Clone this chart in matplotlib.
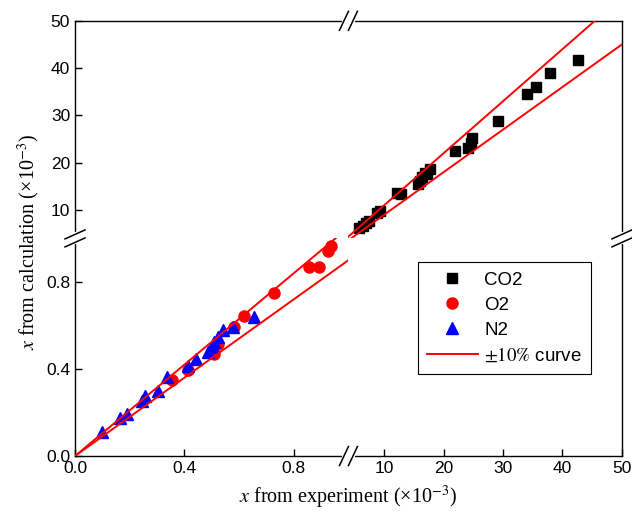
import matplotlib
matplotlib.use('Agg')
import matplotlib.pyplot as plt
from matplotlib.lines import Line2D

# data (units of 1e-3)
co2_x = [42.6, 37.9, 35.5, 34.0, 29.1, 24.8, 24.6, 24.1, 21.9, 17.7, 17.2, 16.9,
         16.3, 15.7, 16.0, 12.9, 12.2, 9.3, 8.8, 7.4, 6.9, 6.4, 5.8]
co2_y = [41.8, 39.0, 36.0, 34.5, 28.8, 25.2, 24.2, 23.1, 22.4, 18.7, 17.6, 17.9,
         16.9, 15.4, 16.2, 13.3, 13.6, 9.8, 9.3, 7.7, 7.2, 6.6, 6.1]

o2_x = [0.937, 0.926, 0.893, 0.856, 0.726, 0.619, 0.581, 0.522, 0.507, 0.415, 0.356]
o2_y = [0.963, 0.940, 0.870, 0.870, 0.749, 0.642, 0.595, 0.516, 0.470, 0.395, 0.349]

n2_x = [0.100, 0.163, 0.189, 0.244, 0.256, 0.304, 0.337, 0.415, 0.441, 0.485,
        0.504, 0.507, 0.522, 0.541, 0.578, 0.656]
n2_y = [0.112, 0.177, 0.191, 0.251, 0.274, 0.298, 0.363, 0.414, 0.447, 0.479,
        0.502, 0.526, 0.549, 0.577, 0.595, 0.637]

curve_x = [0, 50]
# slopes of the two guide lines as drawn (upper one is flatter in the low panel)
upper_slope_low = 1.05
upper_slope_high = 1.1
lower_slope = 0.9

low_lim = (0, 1.0)
high_lim = (4, 50)
low_ticks = [0.0, 0.4, 0.8]
low_labels = ['0.0', '0.4', '0.8']
high_ticks = [10, 20, 30, 40, 50]

plt.rcParams['font.family'] = ['Liberation Sans', 'DejaVu Sans']
plt.rcParams['mathtext.fontset'] = 'stix'

fig, axs = plt.subplots(2, 2, figsize=(6.32, 5.20), dpi=100,
                        gridspec_kw=dict(hspace=0, wspace=0))
fig.subplots_adjust(left=0.1187, right=0.984, bottom=0.123, top=0.96)
ul, ur = axs[0]
ll, lr = axs[1]

for ax in axs.flat:
    hi = upper_slope_low if ax is ll else upper_slope_high
    ax.plot(curve_x, [hi * v for v in curve_x], color='red', lw=1.4, zorder=3)
    ax.plot(curve_x, [lower_slope * v for v in curve_x], color='red', lw=1.4, zorder=3)
    ax.plot(co2_x, co2_y, 's', color='black', ms=7.2, zorder=2)
    ax.plot(o2_x, o2_y, 'o', color='red', ms=8, zorder=2)
    ax.plot(n2_x, n2_y, '^', color='blue', ms=8.5, zorder=2)
    for s in ax.spines.values():
        s.set_linewidth(1.0)
    ax.tick_params(direction='in', length=5, width=1.0, labelsize=12.5,
                   top=False, right=False)

for ax in (ul, ll):
    ax.set_xlim(*low_lim)
for ax in (ur, lr):
    ax.set_xlim(*high_lim)
for ax in (ll, lr):
    ax.set_ylim(*low_lim)
for ax in (ul, ur):
    ax.set_ylim(*high_lim)

ul.spines[['right', 'bottom']].set_visible(False)
ur.spines[['left', 'bottom']].set_visible(False)
ll.spines[['right', 'top']].set_visible(False)
lr.spines[['left', 'top']].set_visible(False)

ll.set_xticks(low_ticks, low_labels)
ll.set_yticks(low_ticks, low_labels)
lr.set_xticks(high_ticks)
lr.set_yticks([])
ul.set_yticks(high_ticks)
ul.set_xticks([])
ur.set_xticks([])
ur.set_yticks([])

# break marks
pos = ll.get_position()
bx, by = pos.x1, pos.y1
x0, x1 = pos.x0, ur.get_position().x1
y0, y1 = pos.y0, ur.get_position().y1
W, H = 632.0, 520.0


def slashes(cx, cy, vertical_axis):
    if vertical_axis:
        offs = [(0, -4), (0, 4)]
        dx, dy = 10, 4.5
        gap = ([cx, cx], [cy - 4 / H, cy + 4 / H])
    else:
        offs = [(-4.5, 0), (4.5, 0)]
        dx, dy = 4.5, 9.5
        gap = ([cx - 4.5 / W, cx + 4.5 / W], [cy, cy])
    fig.add_artist(Line2D(gap[0], gap[1], color='white', lw=3,
                          transform=fig.transFigure, zorder=10))
    for ox, oy in offs:
        fig.add_artist(Line2D([cx + (ox - dx) / W, cx + (ox + dx) / W],
                              [cy + (oy - dy) / H, cy + (oy + dy) / H],
                              color='black', lw=1.1,
                              transform=fig.transFigure, zorder=11))


slashes(bx, y0, False)
slashes(bx, y1, False)
slashes(x0, by, True)
slashes(x1, by, True)

fig.text(0.55, 0.018, r'$\mathit{x}$ from experiment (×10$^{-3}$)',
         family='Liberation Serif', fontsize=14.5, ha='center', va='bottom')
fig.text(0.045, 0.535, r'$\mathit{x}$ from calculation (×10$^{-3}$)',
         family='Liberation Serif', fontsize=14.5, ha='center', va='center',
         rotation=90)

handles = [
    Line2D([], [], marker='s', color='black', ls='none', ms=7.2),
    Line2D([], [], marker='o', color='red', ls='none', ms=8),
    Line2D([], [], marker='^', color='blue', ls='none', ms=8.5),
    Line2D([], [], color='red', lw=1.4),
]
labels = ['CO2', 'O2', 'N2', r'$\mathrm{\pm10\%}$ curve']
leg = fig.legend(handles, labels, loc='upper left', bbox_to_anchor=(0.661, 0.496),
                 borderaxespad=0, fontsize=13.5, fancybox=False, framealpha=1,
                 edgecolor='black', handlelength=2.7, labelspacing=0.42,
                 borderpad=0.5, handletextpad=0.35)
leg.get_frame().set_linewidth(0.8)

fig.savefig('out.png', dpi=100)
